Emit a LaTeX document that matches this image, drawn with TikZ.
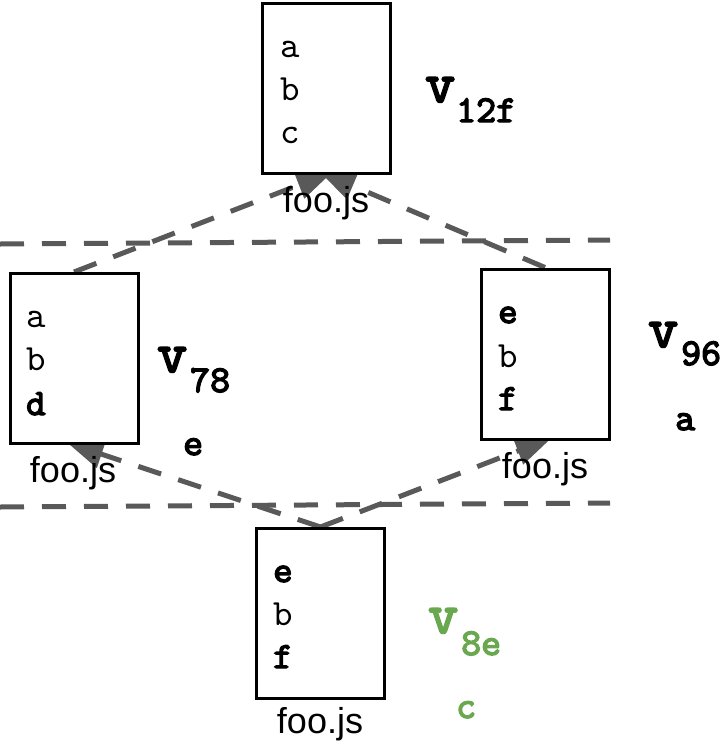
\documentclass[tikz,border=0pt]{standalone}
\usepackage{fontspec}
\newfontfamily\arialf{Liberation Sans}
\newfontfamily\mfont{lmmono10-regular.otf}
\newfontfamily\mbfont{lmmono10-regular.otf}[FakeBold=3.5]
\usetikzlibrary{arrows.meta,backgrounds}
\definecolor{dashgray}{HTML}{595959}
\definecolor{vgreen}{HTML}{6AA84F}
\begin{document}
\begin{tikzpicture}[x=1pt,y=-1pt,
  box/.style={draw=black, line width=3pt, fill=white, rectangle, inner sep=0pt,
    minimum width=128pt, minimum height=170pt},
  sepline/.style={draw=dashgray, line width=5pt, dash pattern=on 24pt off 18pt},
  link/.style={sepline, shorten >=-7pt, -{Triangle[length=36pt,width=28pt]}},
  mono/.style={font=\fontsize{37}{37}\mfont, anchor=base west, inner sep=0pt},
  monob/.style={font=\fontsize{37}{37}\mbfont, anchor=base west, inner sep=0pt},
  fname/.style={font=\fontsize{36}{36}\arialf, anchor=base, inner sep=0pt},
  vbig/.style={font=\fontsize{57}{57}\mbfont, anchor=base west, inner sep=0pt},
  vsub/.style={font=\fontsize{38}{38}\mbfont, anchor=base west, inner sep=0pt}
]
\useasboundingbox (0,0) rectangle (722,745);
% boxes
\node[box] (T) at (326,88) {};
\node[box] (L) at (74,358.5) {};
\node[box] (R) at (545,354) {};
\node[box] (B) at (320.5,613.5) {};
% separators and links, drawn under the boxes
\begin{scope}[on background layer]
\coordinate (s1a) at (0,244);
\coordinate (s1b) at (610,240);
\coordinate (s2a) at (0,507);
\coordinate (s2b) at (610,503);
\draw[sepline] (s1a) -- (s1b);
\draw[sepline] (s2a) -- (s2b);
\draw[link] (L.north) -- (T.south);
\draw[link] (R.north) -- (T.south);
\draw[link] (B.north) -- (L.south);
\draw[link] (B.north) -- (R.south);
\end{scope}
% box contents
\node[mono] (ta) at (280,57) {a};
\node[mono] (tb) at (280,100) {b};
\node[mono] (tc) at (280,143) {c};
\node[mono] (la) at (26,327) {a};
\node[mono] (lb) at (26,370) {b};
\node[monob] (ld) at (26,415) {d};
\node[monob] (re) at (498,323) {e};
\node[mono] (rb) at (498,367) {b};
\node[monob] (rf) at (498,410) {f};
\node[monob] (be) at (273,582) {e};
\node[mono] (bb) at (273,625) {b};
\node[monob] (bf) at (273,668) {f};
% file names
\node[fname] (tf) at (326,212) {foo.js};
\node[fname] (lf) at (73,482) {foo.js};
\node[fname] (rf2) at (545,478) {foo.js};
\node[fname] (bf2) at (320,733) {foo.js};
% version labels
\node[vbig] (v1) at (425,102) {v};
\node[vsub] (v1s) at (456,122) {12f};
\node[vbig] (v2) at (157,372) {v};
\node[vsub] (v2s) at (190,392) {78};
\node[vsub] (v2e) at (183,455) {e};
\node[vbig] (v3) at (648,347) {v};
\node[vsub] (v3s) at (681,365) {96};
\node[vsub] (v3a) at (675,430) {a};
\node[vbig, text=vgreen] (v4) at (428,633) {v};
\node[vsub, text=vgreen] (v4s) at (461,655) {8e};
\node[vsub, text=vgreen] (v4c) at (456,718) {c};
\end{tikzpicture}
\end{document}
